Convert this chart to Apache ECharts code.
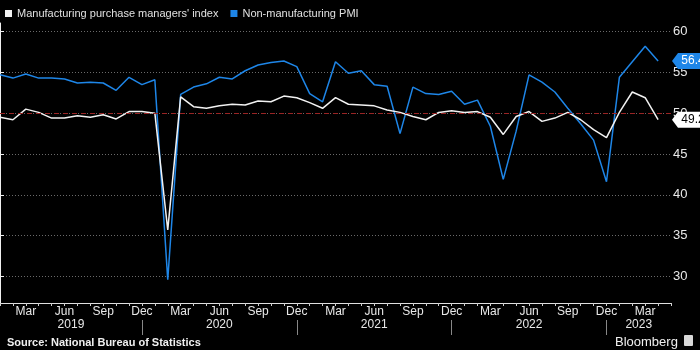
<!DOCTYPE html>
<html><head><meta charset="utf-8">
<script src="https://cdn.jsdelivr.net/npm/echarts@6/dist/echarts.min.js"></script>
<style>html,body{margin:0;padding:0;background:#000}#c{width:700px;height:350px}</style>
</head><body><div id="c"></div>
<script>
const months = [
 '2019-01','2019-02','2019-03','2019-04','2019-05','2019-06','2019-07','2019-08','2019-09','2019-10','2019-11','2019-12',
 '2020-01','2020-02','2020-03','2020-04','2020-05','2020-06','2020-07','2020-08','2020-09','2020-10','2020-11','2020-12',
 '2021-01','2021-02','2021-03','2021-04','2021-05','2021-06','2021-07','2021-08','2021-09','2021-10','2021-11','2021-12',
 '2022-01','2022-02','2022-03','2022-04','2022-05','2022-06','2022-07','2022-08','2022-09','2022-10','2022-11','2022-12',
 '2023-01','2023-02','2023-03','2023-04'];
const manufacturing = [
 49.5,49.2,50.5,50.1,49.4,49.4,49.7,49.5,49.8,49.3,50.2,50.2,
 50.0,35.7,52.0,50.8,50.6,50.9,51.1,51.0,51.5,51.4,52.1,51.9,
 51.3,50.6,51.9,51.1,51.0,50.9,50.4,50.1,49.6,49.2,50.1,50.3,
 50.1,50.2,49.5,47.4,49.6,50.2,49.0,49.4,50.1,49.2,48.0,47.0,
 50.1,52.6,51.9,49.2];
const nonManufacturing = [
 54.7,54.3,54.8,54.3,54.3,54.2,53.7,53.8,53.7,52.8,54.4,53.5,
 54.1,29.6,52.3,53.2,53.6,54.4,54.2,55.2,55.9,56.2,56.4,55.7,
 52.4,51.4,56.3,54.9,55.2,53.5,53.3,47.5,53.2,52.4,52.3,52.7,
 51.1,51.6,48.4,41.9,47.8,54.7,53.8,52.6,50.6,48.7,46.7,41.6,
 54.4,56.3,58.2,56.4];
const yTicks = [30,35,40,45,50,55,60];
const monthNames = ['Jan','Feb','Mar','Apr','May','Jun','Jul','Aug','Sep','Oct','Nov','Dec'];
const labelMonths = ['Mar','Jun','Sep','Dec'];
const seriesNames = ["Manufacturing purchase managers' index", 'Non-manufacturing PMI'];
const threshold = 50;

const axisMonths = months.concat(['2023-05']);
const lastIdx = axisMonths.length - 1;
const decIdx = axisMonths.map((m, i) => m.endsWith('-12') ? i : -1).filter(i => i >= 0);
const bounds = [0].concat(decIdx, [lastIdx]);
const yearPos = [];
for (let i = 0; i < bounds.length - 1; i++) yearPos.push((bounds[i] + bounds[i + 1]) / 2);
const yearOf = v => axisMonths[Math.min(lastIdx, Math.ceil(v))].slice(0, 4);

const FONT = 'Liberation Sans';
const WHITE = '#f2f2f2';
const BLUE = '#1e86e8';

function tag(seriesVals, color, textColor) {
  const v = seriesVals[seriesVals.length - 1];
  return {
    symbol: 'path://M0,6 L6,0 L36,0 L36,12 L6,12 Z',
    symbolSize: [36, 16],
    symbolKeepAspect: false,
    symbolOffset: [19, 0],
    data: [{ coord: [axisMonths[lastIdx], v], value: v }],
    itemStyle: { color: color },
    label: { show: true, position: 'inside', offset: [3, 0], color: textColor,
      fontFamily: FONT, fontSize: 12, formatter: p => p.value.toFixed(1) }
  };
}

const chart = echarts.init(document.getElementById('c'), null, { renderer: 'canvas' });
chart.setOption({
  backgroundColor: '#000',
  animation: false,
  title: [
    { text: 'Source: National Bureau of Statistics', left: 2, top: 332,
      textStyle: { color: '#f0f0f0', fontFamily: FONT, fontSize: 11, fontWeight: 'bold' } },
    { text: 'Bloomberg', left: 610, top: 331,
      textStyle: { color: '#f0f0f0', fontFamily: FONT, fontSize: 13, fontWeight: 'normal' } }
  ],
  graphic: [
    { type: 'rect', left: 684, top: 335, shape: { width: 9, height: 11, r: 1 }, style: { fill: '#d8d8d8' } }
  ],
  legend: {
    left: 0, top: 3, itemWidth: 7, itemHeight: 7, itemGap: 12, icon: 'rect',
    textStyle: { color: '#e0e0e0', fontFamily: FONT, fontSize: 11 },
    data: seriesNames
  },
  grid: { left: -1, right: 29, top: 23, bottom: 47, containLabel: false },
  xAxis: [
    { type: 'category', data: axisMonths, boundaryGap: false,
      axisLine: { lineStyle: { color: '#e0e0e0', width: 1 } },
      axisTick: { show: true, interval: 0, length: 3, lineStyle: { color: '#cfcfcf' } },
      axisLabel: { color: '#e8e8e8', fontFamily: FONT, fontSize: 12, margin: 3,
        interval: (i, v) => labelMonths.includes(monthNames[+v.slice(5) - 1]),
        formatter: v => monthNames[+v.slice(5) - 1] },
      splitLine: { show: false } },
    { type: 'value', min: 0, max: lastIdx, position: 'bottom', offset: 17,
      axisLine: { show: false },
      axisTick: { show: true, customValues: decIdx, length: 15, lineStyle: { color: '#888' } },
      axisLabel: { show: true, customValues: yearPos, color: '#e8e8e8', fontFamily: FONT, fontSize: 12,
        margin: -1, formatter: v => yearOf(v) },
      splitLine: { show: false } }
  ],
  yAxis: {
    type: 'value', position: 'right', min: 26.75, max: 61.05,
    axisLine: { show: true, lineStyle: { color: '#f0f0f0', width: 1 } },
    axisTick: { show: true, length: 4, customValues: yTicks, lineStyle: { color: '#f0f0f0' } },
    axisLabel: { color: '#e8e8e8', fontFamily: FONT, fontSize: 13, margin: 2, customValues: yTicks },
    splitLine: { show: true, lineStyle: { color: '#6a6a6a', type: [1, 2], width: 1 } }
  },
  series: [
    { name: seriesNames[0], type: 'line', data: manufacturing, symbol: 'none', clip: false,
      lineStyle: { color: WHITE, width: 1.5 }, itemStyle: { color: WHITE }, z: 3,
      markLine: { silent: true, symbol: 'none', label: { show: false },
        lineStyle: { color: '#9a2424', type: [5, 4], width: 1 },
        data: [{ yAxis: threshold }] },
      markPoint: tag(manufacturing, '#ffffff', '#000000') },
    { name: seriesNames[1], type: 'line', data: nonManufacturing, symbol: 'none', clip: false,
      lineStyle: { color: BLUE, width: 1.5 }, itemStyle: { color: BLUE }, z: 2,
      markPoint: tag(nonManufacturing, BLUE, '#ffffff') }
  ]
});
</script></body></html>
